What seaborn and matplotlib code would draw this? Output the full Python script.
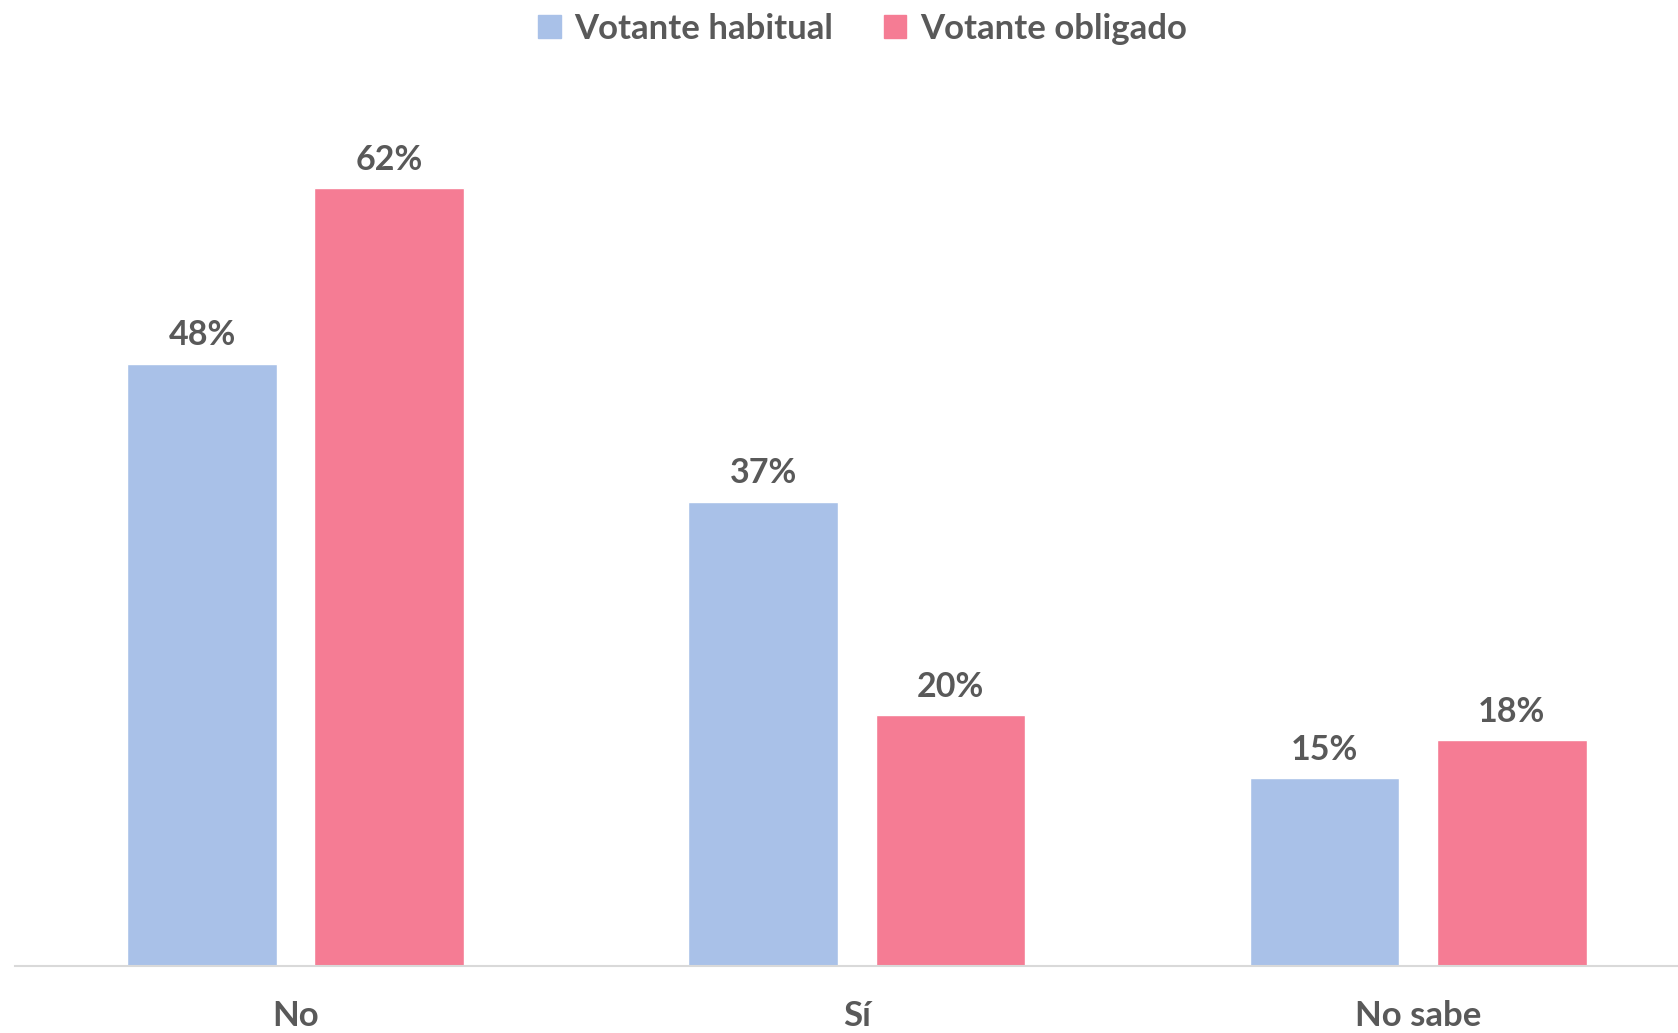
import pandas as pd
import matplotlib.pyplot as plt
import seaborn as sns

# Datos
categorias = ['No', 'Sí', 'No sabe']
votante_habitual = [48, 37, 15]
votante_obligado = [62, 20, 18]
series = ['Votante habitual', 'Votante obligado']
colores = ['#A9C1E8', '#F57C94']
gris = '#595959'

df = pd.DataFrame({
    'respuesta': categorias * 2,
    'valor': votante_habitual + votante_obligado,
    'tipo': [series[0]] * 3 + [series[1]] * 3,
})

sns.set_style('white')
plt.rcParams['font.family'] = ['Lato', 'DejaVu Sans']

fig = plt.figure(figsize=(16.78, 10.33), dpi=100)
ax = fig.add_axes([0.0089, 0.0645, 0.9911, 0.875])

sns.barplot(data=df, x='respuesta', y='valor', hue='tipo', palette=colores,
            width=0.667, gap=0.2, saturation=1, ax=ax, legend=False)

for cont in ax.containers:
    ax.bar_label(cont, labels=[f'{v:.0f}%' for v in cont.datavalues],
                 padding=9, fontsize=24.5, fontweight='bold', color=gris)

ax.set_ylim(0, 72)
ax.set_xlim(-0.5, 2.463)
ax.set_yticks([])
ax.set_xlabel('')
ax.set_ylabel('')
for lado in ['top', 'right', 'left']:
    ax.spines[lado].set_visible(False)
ax.spines['bottom'].set_color('#D9D9D9')
ax.spines['bottom'].set_linewidth(1.5)
ax.tick_params(axis='x', length=0, pad=24, labelsize=25, labelcolor=gris)
for t in ax.get_xticklabels():
    t.set_fontweight('bold')

handles = [plt.Rectangle((0, 0), 1, 1, color=c) for c in colores]
leg = fig.legend(handles, series, loc='center', bbox_to_anchor=(0.514, 0.972),
                 ncol=2, frameon=False, fontsize=25, handlelength=0.65,
                 handleheight=0.65, handletextpad=0.4, columnspacing=1.45)
for t in leg.get_texts():
    t.set_color(gris)
    t.set_fontweight('bold')

fig.savefig('out.png', dpi=100)
